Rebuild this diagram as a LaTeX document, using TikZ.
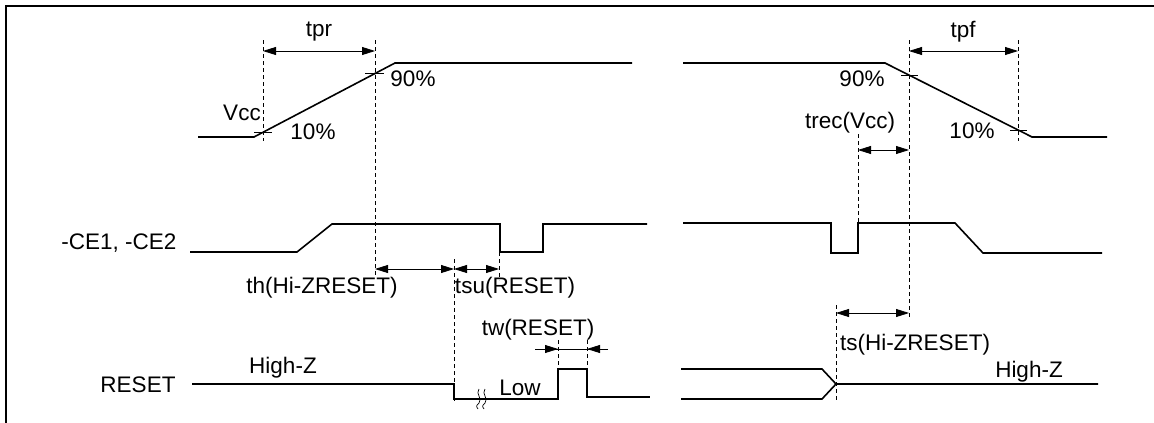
\documentclass[tikz,border=0pt]{standalone}
\usepackage{fontspec}
\setmainfont{Liberation Sans}
\usetikzlibrary{arrows.meta}
\begin{document}
\begin{tikzpicture}[x=1pt,y=-1pt,
  sig/.style={line width=1.6pt, line join=miter},
  tickmark/.style={line width=0.8pt},
  guide/.style={line width=1pt, dash pattern=on 4pt off 3pt},
  dim/.style={line width=0.8pt, {Triangle[length=13pt,width=8pt]}-{Triangle[length=13pt,width=8pt]}},
  onehead/.style={line width=0.8pt, -{Triangle[length=13pt,width=8pt]}},
  lbl/.style={font=\fontsize{22.5}{26}\selectfont, inner sep=0pt}]
\useasboundingbox (0,0) rectangle (1154,423);
% frame
\draw[line width=2.2pt] (6,423) -- (6,6) -- (1154,6);

% ---- Vcc ----
\draw[sig] (198,137) -- (254,137) -- (395,63) -- (632,63);
\draw[sig] (683,63) -- (885,63) -- (1032,137) -- (1107,137);
\draw[tickmark] (254,132) -- (272,132);
\draw[tickmark] (365,73) -- (384,73);
\draw[tickmark] (901,75) -- (918,75);
\draw[tickmark] (1010,130) -- (1027,130);

% ---- -CE1,-CE2 ----
\draw[sig] (190,252) -- (297,252) -- (332,224) -- (500,224) -- (500,252) -- (543,252) -- (543,224) -- (647,224);
\draw[sig] (683,223) -- (831,223) -- (831,253) -- (858,253) -- (858,223) -- (955,223) -- (983,253) -- (1102,253);

% ---- RESET ----
\draw[sig] (192,384) -- (454,384) -- (454,399) -- (558,399) -- (558,369) -- (587,369) -- (587,397) -- (650,397);
\draw[sig] (681,369) -- (822,369) -- (836,384) -- (1098,384);
\draw[sig] (681,399) -- (822,399) -- (836,384);
% break mark
\draw[line width=0.7pt] (479,389) .. controls (475,394) and (483,398) .. (479,403) .. controls (476,406) .. (478,409);
\draw[line width=0.7pt] (485,389) .. controls (481,394) and (489,398) .. (485,403) .. controls (482,406) .. (484,409);

% ---- guides ----
\draw[guide] (263,40) -- (263,141);
\draw[guide] (375,40) -- (375,276);
\draw[guide] (909,40) -- (909,319);
\draw[guide] (1018,40) -- (1018,141);
\draw[guide] (858,134) -- (858,223);
\draw[guide] (454,259) -- (454,401);
\draw[guide] (499,252) -- (499,280);
\draw[guide] (558,340) -- (558,369);
\draw[guide] (587,340) -- (587,369);
\draw[guide] (836,305) -- (836,401);

% ---- dimensions ----
\draw[dim] (263,51) -- (375,51);
\draw[dim] (909,51) -- (1018,51);
\draw[dim] (858,150) -- (909,150);
\draw[dim] (375,269) -- (454,269);
\draw[dim] (454,269) -- (499,269);
\draw[dim] (836,313) -- (909,313);
\draw[line width=0.8pt] (535,349) -- (608,349);
\draw[onehead] (535,349) -- (558,349);
\draw[onehead] (608,349) -- (587,349);

% ---- labels ----
\node[lbl] (lvcc) at (242,113) {Vcc};
\node[lbl] (lce) at (119,243) {-CE1, -CE2};
\node[lbl] (lreset) at (138,385) {RESET};
\node[lbl] (ltpr) at (319,32) {tpr};
\node[lbl] (ltpf) at (963,32) {tpf};
\node[lbl] (l90a) at (413,79) {90\%};
\node[lbl] (l10a) at (313,132) {10\%};
\node[lbl] (l90b) at (862,79) {90\%};
\node[lbl] (l10b) at (972,131) {10\%};
\node[lbl] (ltrec) at (850,123) {trec(Vcc)};
\node[lbl] (lth) at (322,288) {th(Hi-ZRESET)};
\node[lbl] (ltsu) at (515,288) {tsu(RESET)};
\node[lbl] (ltw) at (538,330) {tw(RESET)};
\node[lbl] (lhza) at (283,368) {High-Z};
\node[lbl] (llow) at (520,388) {Low};
\node[lbl] (lts) at (915,345) {ts(Hi-ZRESET)};
\node[lbl] (lhzb) at (1029,372) {High-Z};
\end{tikzpicture}
\end{document}
